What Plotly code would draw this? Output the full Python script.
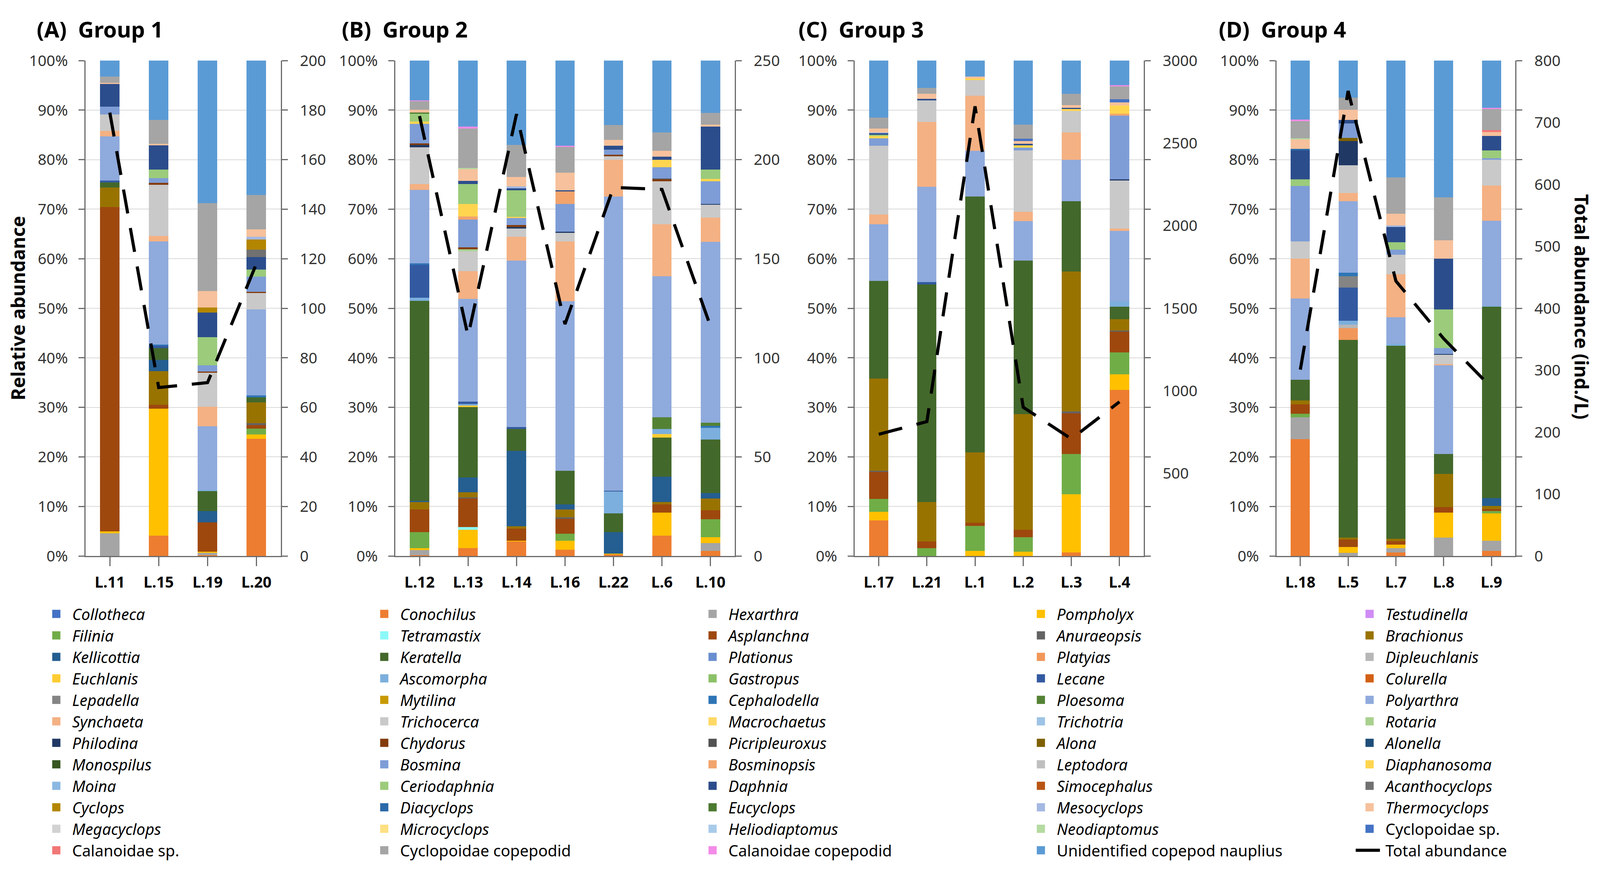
import plotly.graph_objects as go

# ---------------- data ----------------
SPECIES = [
    "Collotheca", "Conochilus", "Hexarthra", "Pompholyx", "Testudinella",
    "Filinia", "Tetramastix", "Asplanchna", "Anuraeopsis", "Brachionus",
    "Kellicottia", "Keratella", "Plationus", "Platyias", "Dipleuchlanis",
    "Euchlanis", "Ascomorpha", "Gastropus", "Lecane", "Colurella",
    "Lepadella", "Mytilina", "Cephalodella", "Ploesoma", "Polyarthra",
    "Synchaeta", "Trichocerca", "Macrochaetus", "Trichotria", "Rotaria",
    "Philodina", "Chydorus", "Picripleuroxus", "Alona", "Alonella",
    "Monospilus", "Bosmina", "Bosminopsis", "Leptodora", "Diaphanosoma",
    "Moina", "Ceriodaphnia", "Daphnia", "Simocephalus", "Acanthocyclops",
    "Cyclops", "Diacyclops", "Eucyclops", "Mesocyclops", "Thermocyclops",
    "Megacyclops", "Microcyclops", "Heliodiaptomus", "Neodiaptomus", "Cyclopoidae sp.",
    "Calanoidae sp.", "Cyclopoidae copepodid", "Calanoidae copepodid",
    "Unidentified copepod nauplius",
]
PLAIN_NAMES = ["Cyclopoidae sp.", "Calanoidae sp.", "Cyclopoidae copepodid",
               "Calanoidae copepodid", "Unidentified copepod nauplius"]
TOTAL_NAME = "Total abundance"

# relative abundance (%) per site
L11 = {"Hexarthra": 4.6, "Pompholyx": 0.4, "Asplanchna": 65.4, "Brachionus": 4.0, "Keratella": 1.0,
       "Lecane": 0.4, "Polyarthra": 8.9, "Synchaeta": 1.1, "Trichocerca": 3.3, "Bosmina": 1.6,
       "Daphnia": 4.6, "Thermocyclops": 0.2, "Cyclopoidae copepodid": 1.3,
       "Unidentified copepod nauplius": 3.2}
L15 = {"Conochilus": 4.1, "Pompholyx": 25.6, "Asplanchna": 0.8, "Brachionus": 6.8, "Kellicottia": 2.3,
       "Keratella": 2.4, "Lecane": 0.4, "Cephalodella": 0.3, "Polyarthra": 20.8, "Synchaeta": 1.1,
       "Trichocerca": 10.3, "Chydorus": 0.4, "Bosmina": 1.0, "Ceriodaphnia": 1.7, "Daphnia": 4.9,
       "Thermocyclops": 0.3, "Cyclopoidae copepodid": 4.8, "Unidentified copepod nauplius": 12.0}
L19 = {"Conochilus": 0.2, "Hexarthra": 0.4, "Pompholyx": 0.3, "Asplanchna": 5.9, "Kellicottia": 2.3,
       "Keratella": 4.0, "Ascomorpha": 0.2, "Polyarthra": 12.9, "Synchaeta": 3.9, "Trichocerca": 6.9,
       "Chydorus": 0.2, "Bosmina": 1.3, "Ceriodaphnia": 5.7, "Daphnia": 4.9, "Cyclops": 1.1,
       "Thermocyclops": 3.3, "Cyclopoidae copepodid": 17.7, "Unidentified copepod nauplius": 28.8}
L20 = {"Conochilus": 23.7, "Pompholyx": 0.8, "Filinia": 1.2, "Asplanchna": 0.7, "Anuraeopsis": 0.4,
       "Brachionus": 4.2, "Keratella": 1.0, "Cephalodella": 0.4, "Polyarthra": 17.4, "Trichocerca": 3.3,
       "Chydorus": 0.2, "Bosmina": 3.1, "Ceriodaphnia": 1.4, "Daphnia": 2.5, "Acanthocyclops": 1.5,
       "Cyclops": 2.1, "Mesocyclops": 0.5, "Thermocyclops": 1.5, "Cyclopoidae copepodid": 7.0,
       "Unidentified copepod nauplius": 27.1}

L12 = {"Conochilus": 0.2, "Hexarthra": 1.0, "Pompholyx": 0.4, "Filinia": 3.2, "Asplanchna": 4.6,
       "Brachionus": 1.5, "Kellicottia": 0.2, "Keratella": 40.4, "Ascomorpha": 0.6, "Lecane": 6.7,
       "Cephalodella": 0.3, "Polyarthra": 14.8, "Synchaeta": 1.2, "Trichocerca": 7.4, "Philodina": 0.5,
       "Chydorus": 0.3, "Bosmina": 3.9, "Diaphanosoma": 0.5, "Ceriodaphnia": 1.6, "Eucyclops": 0.2,
       "Thermocyclops": 0.6, "Cyclopoidae copepodid": 1.7, "Calanoidae copepodid": 0.2,
       "Unidentified copepod nauplius": 8.0}
L13 = {"Conochilus": 1.6, "Pompholyx": 3.7, "Tetramastix": 0.5, "Asplanchna": 5.8, "Anuraeopsis": 0.2,
       "Brachionus": 1.0, "Kellicottia": 3.0, "Keratella": 14.2, "Euchlanis": 0.3, "Ascomorpha": 0.3,
       "Lecane": 0.5, "Polyarthra": 20.7, "Synchaeta": 5.6, "Trichocerca": 4.0, "Rotaria": 0.4,
       "Chydorus": 0.4, "Bosmina": 5.6, "Bosminopsis": 0.6, "Diaphanosoma": 2.5, "Ceriodaphnia": 4.0,
       "Daphnia": 0.7, "Thermocyclops": 2.3, "Neodiaptomus": 0.3, "Cyclopoidae copepodid": 7.9,
       "Calanoidae copepodid": 0.4, "Unidentified copepod nauplius": 13.3}
L14 = {"Conochilus": 2.9, "Pompholyx": 0.2, "Asplanchna": 2.4, "Brachionus": 0.5, "Kellicottia": 15.2,
       "Keratella": 4.4, "Lecane": 0.4, "Polyarthra": 33.6, "Synchaeta": 4.8, "Trichocerca": 1.7,
       "Philodina": 0.3, "Chydorus": 0.4, "Bosmina": 1.4, "Diaphanosoma": 0.3, "Ceriodaphnia": 5.3,
       "Daphnia": 0.4, "Mesocyclops": 0.4, "Thermocyclops": 1.9, "Cyclopoidae copepodid": 6.5,
       "Unidentified copepod nauplius": 17.0}
L16 = {"Conochilus": 1.3, "Pompholyx": 1.8, "Filinia": 1.4, "Asplanchna": 3.0, "Anuraeopsis": 0.3,
       "Brachionus": 1.6, "Kellicottia": 1.0, "Keratella": 6.8, "Polyarthra": 34.2, "Synchaeta": 12.1,
       "Trichocerca": 1.7, "Philodina": 0.3, "Bosmina": 5.6, "Bosminopsis": 2.5, "Daphnia": 0.2,
       "Thermocyclops": 3.6, "Cyclopoidae copepodid": 5.2, "Calanoidae copepodid": 0.2,
       "Unidentified copepod nauplius": 17.2}
L22 = {"Conochilus": 0.3, "Pompholyx": 0.2, "Kellicottia": 4.3, "Keratella": 3.8, "Ascomorpha": 4.4,
       "Lecane": 0.2, "Polyarthra": 59.4, "Synchaeta": 7.4, "Trichocerca": 0.7, "Chydorus": 0.3,
       "Bosmina": 1.0, "Daphnia": 0.8, "Thermocyclops": 1.2, "Cyclopoidae copepodid": 3.0,
       "Unidentified copepod nauplius": 13.0}
L6 = {"Conochilus": 4.1, "Pompholyx": 4.7, "Asplanchna": 1.6, "Brachionus": 0.5, "Kellicottia": 5.1,
      "Keratella": 7.9, "Euchlanis": 0.7, "Ascomorpha": 1.0, "Ploesoma": 2.4, "Polyarthra": 28.5,
      "Synchaeta": 10.5, "Trichocerca": 8.6, "Chydorus": 0.4, "Picripleuroxus": 0.2, "Bosmina": 2.3,
      "Diaphanosoma": 1.5, "Daphnia": 0.6, "Thermocyclops": 1.2, "Cyclopoidae copepodid": 3.7,
      "Unidentified copepod nauplius": 14.5}
L10 = {"Conochilus": 1.0, "Hexarthra": 1.6, "Pompholyx": 1.2, "Filinia": 3.6, "Asplanchna": 1.8,
       "Brachionus": 2.4, "Kellicottia": 1.1, "Keratella": 10.8, "Ascomorpha": 2.4, "Ploesoma": 0.6,
       "Cephalodella": 0.4, "Polyarthra": 36.5, "Synchaeta": 4.9, "Trichocerca": 2.6, "Philodina": 0.2,
       "Bosmina": 4.5, "Diaphanosoma": 0.5, "Ceriodaphnia": 1.9, "Daphnia": 8.7, "Thermocyclops": 0.4,
       "Cyclopoidae copepodid": 2.3, "Unidentified copepod nauplius": 10.6}

L17 = {"Conochilus": 7.2, "Pompholyx": 1.7, "Filinia": 2.6, "Asplanchna": 5.5, "Anuraeopsis": 0.2,
       "Brachionus": 18.6, "Keratella": 19.7, "Polyarthra": 11.5, "Synchaeta": 1.9, "Trichocerca": 13.9,
       "Bosmina": 1.5, "Diaphanosoma": 0.5, "Ceriodaphnia": 0.2, "Daphnia": 0.3, "Mesocyclops": 0.2,
       "Thermocyclops": 0.8, "Cyclopoidae copepodid": 2.2, "Unidentified copepod nauplius": 11.5}
L21 = {"Filinia": 1.6, "Asplanchna": 1.3, "Brachionus": 8.0, "Keratella": 43.9, "Lecane": 0.5,
       "Polyarthra": 19.2, "Synchaeta": 13.1, "Trichocerca": 4.4, "Daphnia": 0.3, "Thermocyclops": 1.0,
       "Cyclopoidae copepodid": 1.2, "Unidentified copepod nauplius": 5.5}
L1 = {"Pompholyx": 1.0, "Filinia": 5.1, "Asplanchna": 0.6, "Brachionus": 14.2, "Keratella": 51.7,
      "Polyarthra": 9.2, "Synchaeta": 11.1, "Trichocerca": 3.2, "Diaphanosoma": 0.3,
      "Thermocyclops": 0.4, "Unidentified copepod nauplius": 3.2}
L2 = {"Pompholyx": 0.9, "Filinia": 2.9, "Asplanchna": 1.5, "Brachionus": 23.3, "Keratella": 31.0,
      "Polyarthra": 8.0, "Synchaeta": 1.9, "Trichocerca": 12.4, "Bosmina": 0.5, "Diaphanosoma": 0.5,
      "Daphnia": 0.3, "Thermocyclops": 0.6, "Cyclopoidae sp.": 0.4, "Cyclopoidae copepodid": 2.9,
      "Unidentified copepod nauplius": 12.9}
L3 = {"Conochilus": 0.7, "Pompholyx": 11.8, "Filinia": 8.1, "Asplanchna": 8.2, "Anuraeopsis": 0.4,
      "Brachionus": 28.2, "Keratella": 14.2, "Polyarthra": 8.4, "Synchaeta": 5.5, "Trichocerca": 4.3,
      "Diaphanosoma": 0.4, "Daphnia": 0.3, "Thermocyclops": 0.5, "Cyclopoidae copepodid": 2.3,
      "Unidentified copepod nauplius": 6.7}
L4 = {"Conochilus": 33.5, "Pompholyx": 3.2, "Filinia": 4.4, "Asplanchna": 4.2, "Anuraeopsis": 0.2,
      "Brachionus": 2.3, "Keratella": 2.5, "Ascomorpha": 1.1, "Polyarthra": 14.2, "Synchaeta": 0.5,
      "Trichocerca": 9.7, "Philodina": 0.2, "Bosmina": 12.9, "Bosminopsis": 0.4, "Diaphanosoma": 1.6,
      "Thermocyclops": 0.7, "Cyclopoidae sp.": 0.6, "Cyclopoidae copepodid": 2.6,
      "Calanoidae copepodid": 0.2, "Unidentified copepod nauplius": 5.0}

L18 = {"Conochilus": 23.6, "Hexarthra": 4.4, "Filinia": 0.7, "Asplanchna": 1.9, "Brachionus": 0.8,
       "Keratella": 4.2, "Polyarthra": 16.4, "Synchaeta": 8.0, "Trichocerca": 3.5, "Bosmina": 11.2,
       "Ceriodaphnia": 1.3, "Daphnia": 5.9, "Diacyclops": 0.3, "Thermocyclops": 1.9,
       "Neodiaptomus": 0.2, "Cyclopoidae copepodid": 3.5, "Calanoidae copepodid": 0.3,
       "Unidentified copepod nauplius": 11.9}
L5 = {"Hexarthra": 0.6, "Pompholyx": 1.2, "Asplanchna": 1.5, "Brachionus": 0.4, "Keratella": 39.9,
      "Platyias": 2.4, "Dipleuchlanis": 0.7, "Ascomorpha": 0.8, "Lecane": 6.7, "Lepadella": 2.3,
      "Cephalodella": 0.7, "Polyarthra": 14.4, "Synchaeta": 1.7, "Trichocerca": 5.6, "Philodina": 4.9,
      "Alona": 0.6, "Bosmina": 2.9, "Daphnia": 0.7, "Thermocyclops": 2.1,
      "Cyclopoidae copepodid": 2.4, "Unidentified copepod nauplius": 7.5}
L7 = {"Conochilus": 0.7, "Hexarthra": 0.9, "Pompholyx": 0.7, "Asplanchna": 0.7, "Brachionus": 0.5,
      "Keratella": 38.9, "Ascomorpha": 0.4, "Polyarthra": 5.4, "Synchaeta": 8.7, "Trichocerca": 3.9,
      "Bosmina": 1.0, "Ceriodaphnia": 1.5, "Daphnia": 3.1, "Mesocyclops": 0.3, "Thermocyclops": 2.4,
      "Cyclopoidae copepodid": 7.3, "Unidentified copepod nauplius": 23.6}
L8 = {"Hexarthra": 3.7, "Pompholyx": 5.1, "Asplanchna": 1.1, "Brachionus": 6.7, "Keratella": 4.0,
      "Polyarthra": 17.9, "Synchaeta": 0.2, "Trichocerca": 1.9, "Philodina": 0.2, "Bosmina": 1.2,
      "Ceriodaphnia": 7.8, "Daphnia": 10.2, "Thermocyclops": 3.7, "Cyclopoidae copepodid": 8.7,
      "Unidentified copepod nauplius": 27.6}
L9 = {"Conochilus": 1.0, "Hexarthra": 2.1, "Pompholyx": 5.5, "Filinia": 0.5, "Asplanchna": 0.4,
      "Brachionus": 0.6, "Kellicottia": 1.6, "Keratella": 38.6, "Ascomorpha": 0.2, "Polyarthra": 17.2,
      "Synchaeta": 7.1, "Trichocerca": 5.2, "Bosmina": 0.3, "Ceriodaphnia": 1.6, "Daphnia": 2.9,
      "Thermocyclops": 0.8, "Calanoidae sp.": 0.4, "Cyclopoidae copepodid": 4.2,
      "Calanoidae copepodid": 0.3, "Unidentified copepod nauplius": 9.5}

SITE_DATA = {"L.11": L11, "L.15": L15, "L.19": L19, "L.20": L20,
             "L.12": L12, "L.13": L13, "L.14": L14, "L.16": L16, "L.22": L22, "L.6": L6, "L.10": L10,
             "L.17": L17, "L.21": L21, "L.1": L1, "L.2": L2, "L.3": L3, "L.4": L4,
             "L.18": L18, "L.5": L5, "L.7": L7, "L.8": L8, "L.9": L9}

GROUP_TITLES = ["(A)\u00a0 Group 1", "(B)\u00a0 Group 2", "(C)\u00a0 Group 3", "(D)\u00a0 Group 4"]
GROUP_SITES = [["L.11", "L.15", "L.19", "L.20"],
               ["L.12", "L.13", "L.14", "L.16", "L.22", "L.6", "L.10"],
               ["L.17", "L.21", "L.1", "L.2", "L.3", "L.4"],
               ["L.18", "L.5", "L.7", "L.8", "L.9"]]
# total abundance (ind./L)
GROUP_TOTALS = [[179, 68, 70, 118],
                [222, 111, 223, 117, 186, 185, 116],
                [737, 814, 2723, 901, 709, 934],
                [301, 751, 444, 351, 272]]
RIGHT_MAX = [200, 250, 3000, 800]
RIGHT_LABELS = [list(range(0, 201, 20)), list(range(0, 251, 50)),
                list(range(500, 3001, 500)), list(range(0, 801, 100))]
PCT_TICKS = list(range(0, 101, 10))
PCT_LABELS = ["%d%%" % v for v in PCT_TICKS]

# ---------------- styles ----------------
COLORS = [
    "#4472C4", "#ED7D31", "#A5A5A5", "#FFC000", "#D08BF5",
    "#70AD47", "#8CF8F8", "#9E480E", "#636363", "#997300",
    "#255E91", "#43682B", "#698ED0", "#F1975A", "#B7B7B7",
    "#FFCD33", "#7CAFDD", "#8CC168", "#335AA1", "#D35F15",
    "#848484", "#C89A00", "#2E75B6", "#548235", "#8FAADC",
    "#F4B183", "#C9C9C9", "#FFD966", "#9DC3E6", "#A9D18E",
    "#203864", "#843C0C", "#525252", "#7F6000", "#1F4E79",
    "#385723", "#7E9DD6", "#F2A46C", "#BFBFBF", "#FFD54F",
    "#8AB8E2", "#9BCB7B", "#2C4D8C", "#B85515", "#717171",
    "#B38600", "#2A6AA8", "#4C7A30", "#A4B8E2", "#F6C19C",
    "#D2D2D2", "#FFE083", "#A9CBEA", "#B5DBA1", "#4472C4",
    "#F27777", "#A5A5A5", "#F48BE8", "#5B9BD5",
]

# The page is shown in a 4096 px wide viewport with an 8 px body margin;
# positions below are given in reference-image pixels and mapped onto it.
REF_W = 4347
VIEW_W, VIEW_H = 4096, 2237
BODY = 8
FW, FH = VIEW_W - 2 * BODY, VIEW_H - 2 * BODY
SX = VIEW_W / REF_W

FONT = "Noto Sans"
AXIS_COLOR = "#6b6b6b"
GRID_COLOR = "#d9d9d9"
TICK_COLOR = "#333333"


def fx(px):
    return (px * SX - BODY) / FW


def fy(px):
    return 1 - (px - BODY) / FH


Y_DOMAIN = [fy(1429), fy(130)]
X_DOMAINS = [(232, 763), (1074, 1996), (2322, 3107), (3468, 4117)]
TITLE_X = [98, 926, 2167, 3309]
LEGEND_X = [110, 1001, 1893, 2785, 3678]
LEGEND_KEYS = ["legend", "legend2", "legend3", "legend4", "legend5"]

fig = go.Figure()

# legend entries (species swatches)
for i, name in enumerate(SPECIES):
    label = name if name in PLAIN_NAMES else "<i>" + name + "</i>"
    fig.add_trace(go.Scatter(
        x=[None], y=[None], mode="markers", name=label,
        marker=dict(symbol="square", size=16, color=COLORS[i],
                    line=dict(width=5, color=COLORS[i])),
        legend=LEGEND_KEYS[i % 5], showlegend=True, hoverinfo="skip",
        xaxis="x", yaxis="y"))

layout = dict(
    width=FW, height=FH, margin=dict(l=0, r=0, t=0, b=0), autosize=False,
    paper_bgcolor="white", plot_bgcolor="rgba(0,0,0,0)",
    barmode="stack", barnorm="percent", bargap=0.6,
    font=dict(family=FONT, color=TICK_COLOR),
    annotations=[],
)

for p, sites in enumerate(GROUP_SITES):
    xa = "x" if p == 0 else "x%d" % (p + 1)
    yl = "y" if p == 0 else "y%d" % (2 * p + 1)
    yr = "y%d" % (2 * p + 2)
    for i, name in enumerate(SPECIES):
        vals = [SITE_DATA[s].get(name, 0) for s in sites]
        fig.add_trace(go.Bar(
            x=sites, y=vals, name=name, showlegend=False,
            marker=dict(color=COLORS[i], line=dict(width=0)),
            xaxis=xa, yaxis=yl))
    fig.add_trace(go.Scatter(
        x=sites, y=GROUP_TOTALS[p], mode="lines", name=TOTAL_NAME,
        line=dict(color="black", width=8, dash="62px,38px"),
        legend="legend5", showlegend=(p == 0),
        xaxis=xa, yaxis=yr))

    x0, x1 = X_DOMAINS[p]
    layout["xaxis" if p == 0 else "xaxis%d" % (p + 1)] = dict(
        domain=[fx(x0), fx(x1)], anchor=yl, type="category",
        categoryorder="array", categoryarray=sites, range=[-0.5, len(sites) - 0.5],
        showline=True, linecolor=AXIS_COLOR, linewidth=3, mirror=False,
        ticks="outside", ticklen=23, tickwidth=3, tickcolor=AXIS_COLOR,
        ticklabelstandoff=8,
        tickfont=dict(family=FONT, size=39, color="black", weight="bold"),
        showgrid=False, zeroline=False, fixedrange=True)
    layout["yaxis" if p == 0 else "yaxis%d" % (2 * p + 1)] = dict(
        domain=Y_DOMAIN, anchor=xa, range=[0, 100],
        tickmode="array", tickvals=PCT_TICKS, ticktext=PCT_LABELS,
        ticks="outside", ticklen=15, tickwidth=3, tickcolor=AXIS_COLOR,
        ticklabelstandoff=19,
        tickfont=dict(family=FONT, size=39, color=TICK_COLOR),
        showline=True, linecolor=AXIS_COLOR, linewidth=3,
        showgrid=True, gridcolor=GRID_COLOR, gridwidth=2, zeroline=False, fixedrange=True)
    rmax = RIGHT_MAX[p]
    layout["yaxis%d" % (2 * p + 2)] = dict(
        overlaying=yl, anchor=xa, side="right", range=[0, rmax],
        tickmode="array", tickvals=RIGHT_LABELS[p], ticks="",
        ticklabelstandoff=38,
        tickfont=dict(family=FONT, size=39, color=TICK_COLOR),
        minor=dict(tickmode="array", tickvals=[rmax * k / 10 for k in range(11)],
                   ticks="outside", ticklen=15, tickwidth=3, tickcolor=AXIS_COLOR,
                   showgrid=False),
        showline=True, linecolor=AXIS_COLOR, linewidth=3,
        showgrid=False, zeroline=False, fixedrange=True)
    layout["annotations"].append(dict(
        text="<b>" + GROUP_TITLES[p] + "</b>", xref="paper", yref="paper",
        x=fx(TITLE_X[p]), y=fy(47), xanchor="left", yanchor="middle", showarrow=False,
        font=dict(family=FONT, size=56, color="black")))

layout["annotations"].append(dict(
    text="<b>Relative abundance</b>", xref="paper", yref="paper", x=fx(48), y=fy(779),
    xanchor="center", yanchor="middle", textangle=-90, showarrow=False,
    font=dict(family=FONT, size=48, color="black")))
layout["annotations"].append(dict(
    text="<b>Total abundance (ind./L)</b>", xref="paper", yref="paper", x=fx(4297), y=fy(776),
    xanchor="center", yanchor="middle", textangle=90, showarrow=False,
    font=dict(family=FONT, size=48, color="black")))

for k, key in enumerate(LEGEND_KEYS):
    layout[key] = dict(
        x=fx(LEGEND_X[k]), y=1 - (1580 - BODY - 32.5) / FH, xanchor="left", yanchor="top",
        orientation="v", traceorder="normal", itemwidth=71, tracegroupgap=0,
        bgcolor="rgba(0,0,0,0)", borderwidth=0,
        font=dict(family=FONT, size=40, color="black"))

fig.update_layout(**layout)
fig.write_html("out.html")
